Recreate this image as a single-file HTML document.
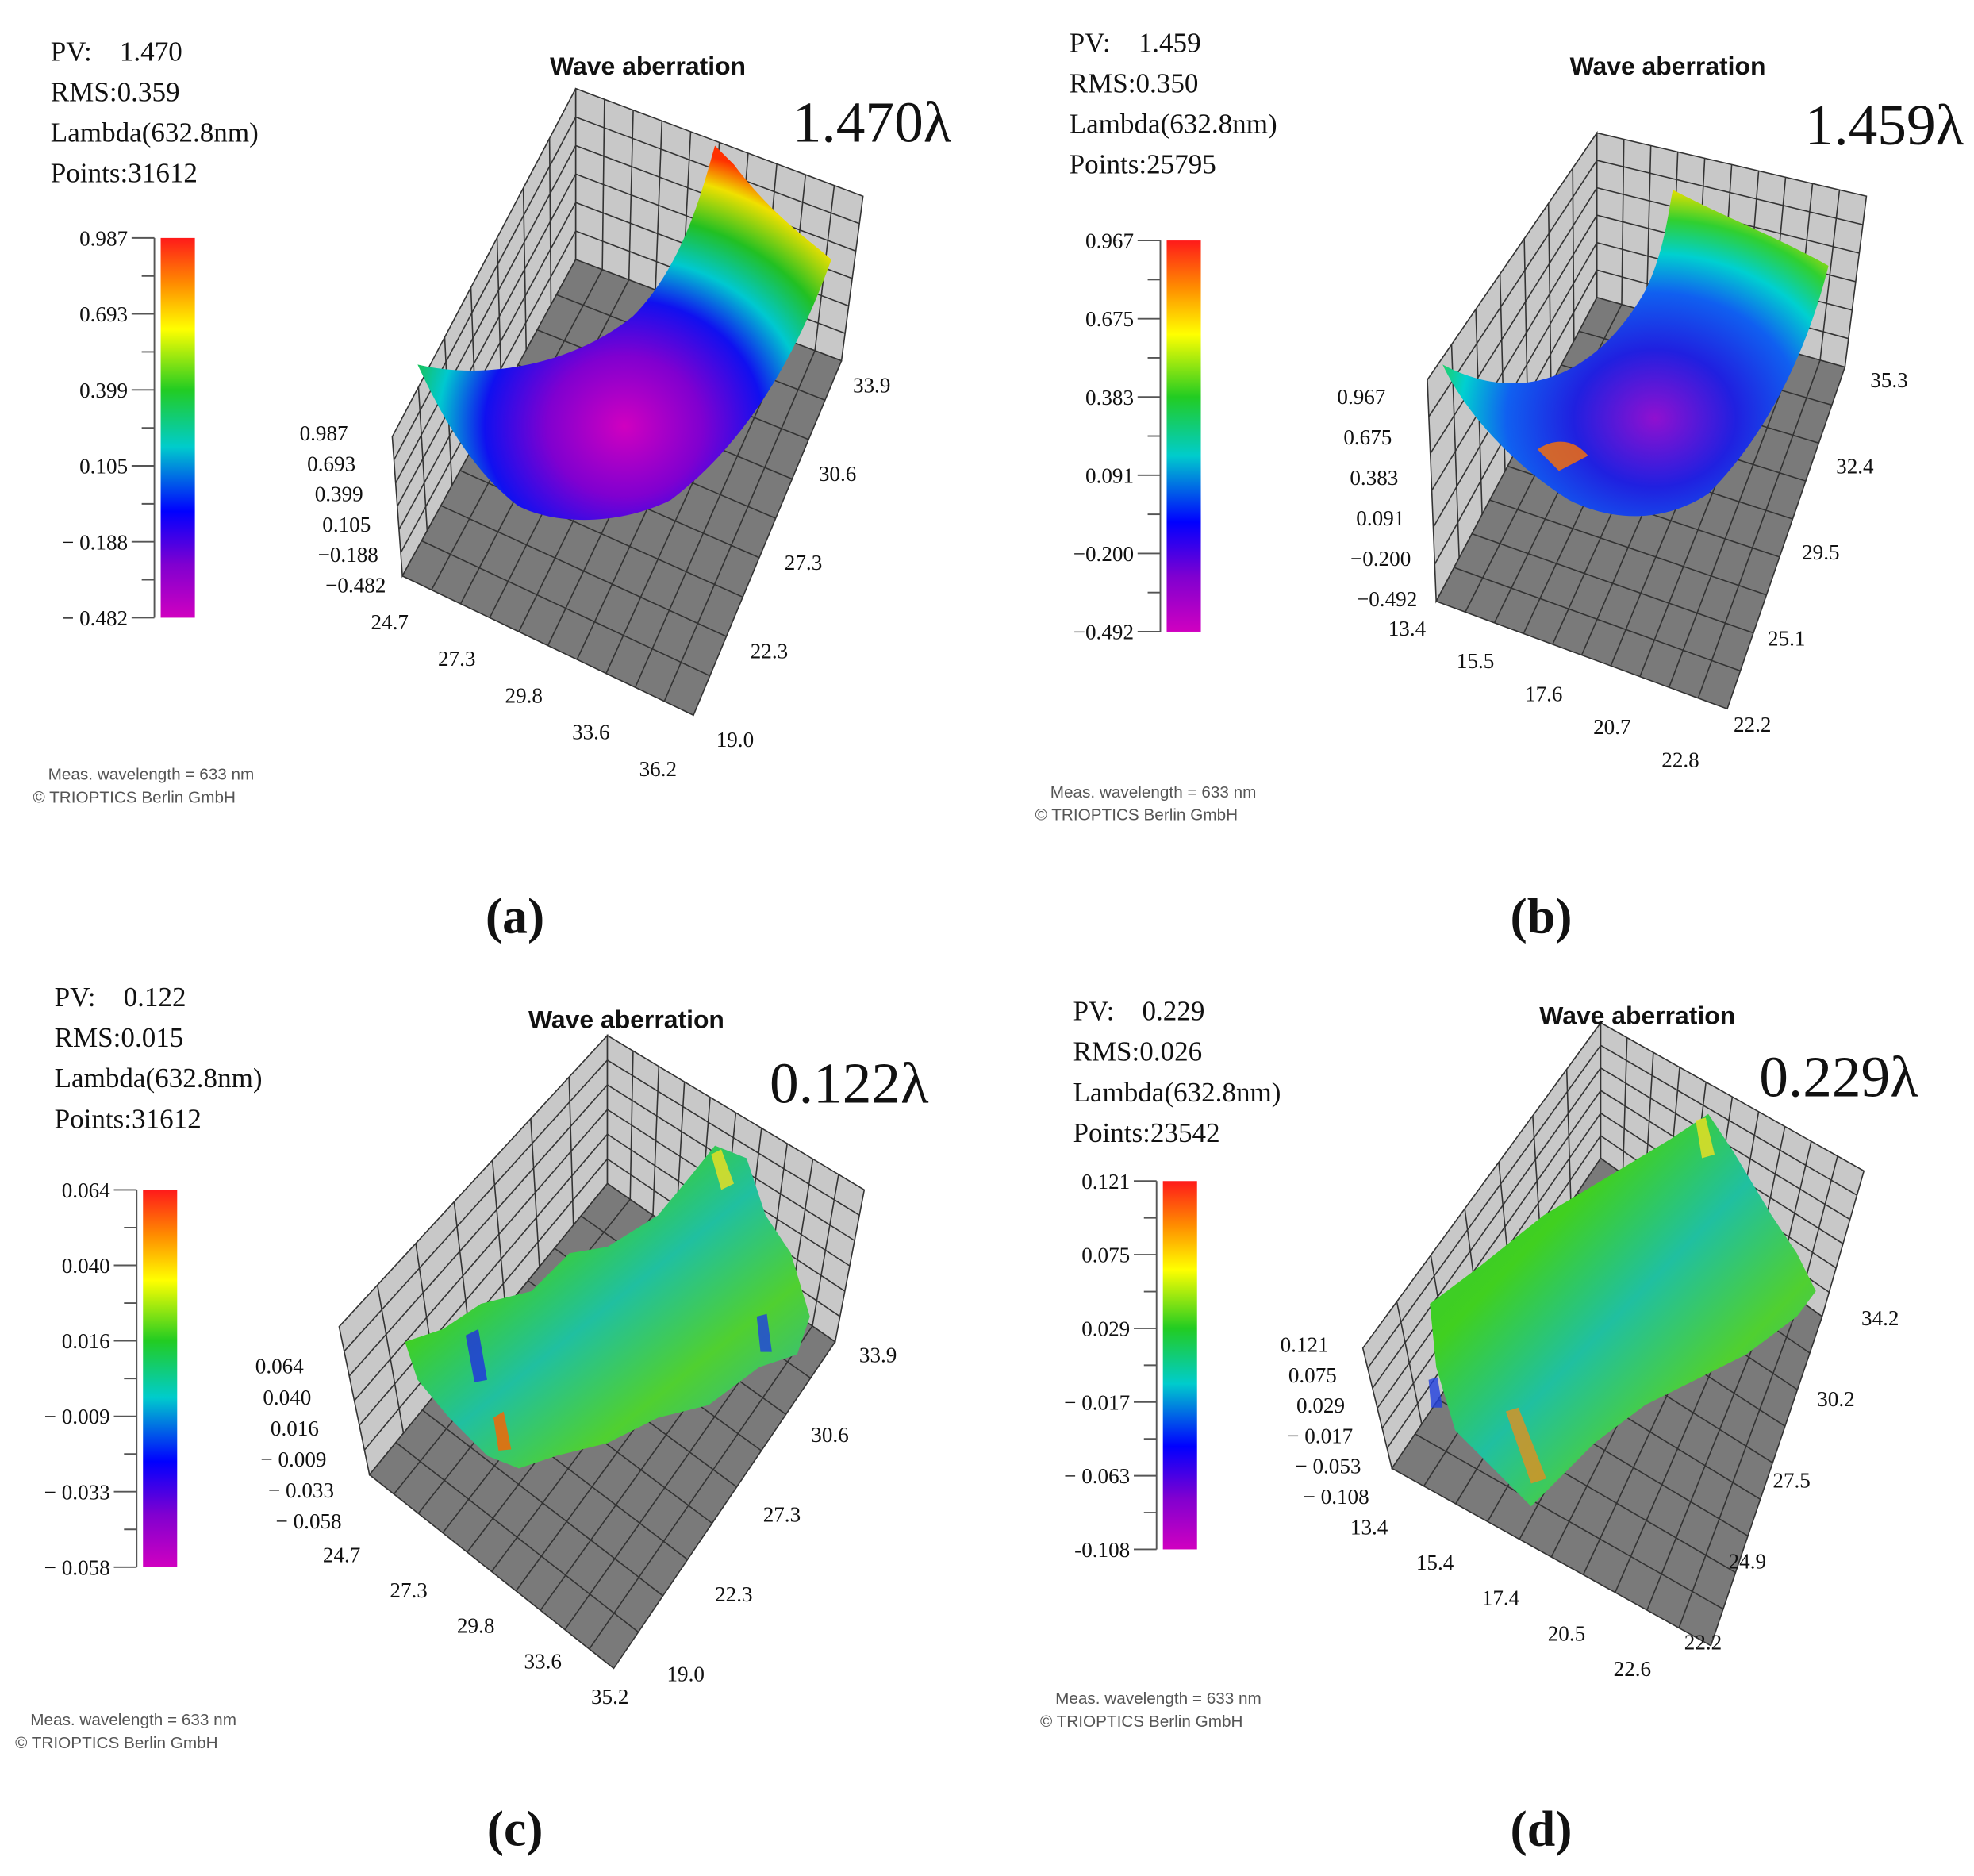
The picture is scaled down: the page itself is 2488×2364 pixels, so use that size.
<!DOCTYPE html>
<html><head><meta charset="utf-8"><style>
html,body{margin:0;padding:0;background:#fff}
svg{display:block}
text{white-space:pre}
.st{font-family:"Liberation Serif",serif;font-size:22px;fill:#111}
.tk{font-family:"Liberation Serif",serif;font-size:17px;fill:#111}
.ti{font-family:"Liberation Sans",sans-serif;font-size:20px;font-weight:bold;fill:#111}
.big{font-family:"Liberation Serif",serif;font-size:46px;fill:#111}
.ft{font-family:"Liberation Sans",sans-serif;font-size:13px;fill:#555}
.lb{font-family:"Liberation Serif",serif;font-size:40px;font-weight:bold;fill:#111}
</style></head><body>
<svg id="fig" width="2488" height="2364" viewBox="0 0 1560 1482" preserveAspectRatio="none" xmlns="http://www.w3.org/2000/svg" xml:space="preserve">
<defs>
<linearGradient id="cb" x1="0" y1="0" x2="0" y2="1">
<stop offset="0" stop-color="#ff1a1a"/><stop offset="0.12" stop-color="#ff8c00"/><stop offset="0.24" stop-color="#ffff00"/><stop offset="0.4" stop-color="#22cc22"/><stop offset="0.55" stop-color="#00cccc"/><stop offset="0.72" stop-color="#0000ff"/><stop offset="0.86" stop-color="#8000d0"/><stop offset="1" stop-color="#d000c0"/>
</linearGradient>
<radialGradient id="ga" cx="0.5" cy="0.75" r="0.75">
<stop offset="0" stop-color="#d000c0"/><stop offset="0.25" stop-color="#8000d0"/><stop offset="0.45" stop-color="#1010f0"/><stop offset="0.6" stop-color="#00c8d0"/><stop offset="0.75" stop-color="#22c022"/><stop offset="0.9" stop-color="#f0e000"/><stop offset="1" stop-color="#ff3000"/>
</radialGradient>
<radialGradient id="gb" cx="0.55" cy="0.7" r="0.7">
<stop offset="0" stop-color="#9010d0"/><stop offset="0.3" stop-color="#2020e0"/><stop offset="0.55" stop-color="#1060f0"/><stop offset="0.72" stop-color="#00d0d0"/><stop offset="0.87" stop-color="#30d030"/><stop offset="1" stop-color="#e0e000"/>
</radialGradient>
<linearGradient id="gn" x1="0" y1="0" x2="1" y2="1">
<stop offset="0" stop-color="#30c040"/><stop offset="0.3" stop-color="#40d020"/><stop offset="0.5" stop-color="#20c0a0"/><stop offset="0.7" stop-color="#50d030"/><stop offset="1" stop-color="#20b0c0"/>
</linearGradient>
</defs>
<g id="layer"></g>
</svg>
<script>
const NS="http://www.w3.org/2000/svg";
const L=document.getElementById('layer');
function mk(t,a,p){const e=document.createElementNS(NS,t);for(const k in a)e.setAttribute(k,a[k]);(p||L).appendChild(e);return e;}
function txt(x,y,s,c,anchor){const e=mk('text',{x:x,y:y,class:c});if(anchor)e.setAttribute('text-anchor',anchor);e.textContent=s;return e;}
function lerp(a,b,t){return [a[0]+(b[0]-a[0])*t,a[1]+(b[1]-a[1])*t];}
function quad(p,fill,n,m,name){
  const g=mk('g',{});
  
  
  mk('polygon',{points:p.map(q=>q.join(',')).join(' '),fill:fill,stroke:'#333','stroke-width':1},g);
  for(let i=1;i<n;i++){const a=lerp(p[0],p[1],i/n),b=lerp(p[3],p[2],i/n);mk('line',{x1:a[0],y1:a[1],x2:b[0],y2:b[1],stroke:'#333','stroke-width':1},g);}
  for(let j=1;j<m;j++){const a=lerp(p[0],p[3],j/m),b=lerp(p[1],p[2],j/m);mk('line',{x1:a[0],y1:a[1],x2:b[0],y2:b[1],stroke:'#333','stroke-width':1},g);}
}
const statsA=["PV:    1.470","RMS:0.359","Lambda(632.8nm)","Points:31612"];
const statsB=["PV:    1.459","RMS:0.350","Lambda(632.8nm)","Points:25795"];
const statsC=["PV:    0.122","RMS:0.015","Lambda(632.8nm)","Points:31612"];
const statsD=["PV:    0.229","RMS:0.026","Lambda(632.8nm)","Points:23542"];
const cbA=["0.987","0.693","0.399","0.105","\u2212 0.188","\u2212 0.482"];
const cbB=["0.967","0.675","0.383","0.091","\u22120.200","\u22120.492"];
const cbC=["0.064","0.040","0.016","\u2212 0.009","\u2212 0.033","\u2212 0.058"];
const cbD=["0.121","0.075","0.029","\u2212 0.017","\u2212 0.063","-0.108"];
const xA=["24.7","27.3","29.8","33.6","36.2"], yA=["19.0","22.3","27.3","30.6","33.9"];
const xB=["13.4","15.5","17.6","20.7","22.8"], yB=["22.2","25.1","29.5","32.4","35.3"];
const xC=["24.7","27.3","29.8","33.6","35.2"], yC=["19.0","22.3","27.3","30.6","33.9"];
const xD=["13.4","15.4","17.4","20.5","22.6"], yD=["22.2","24.9","27.5","30.2","34.2"];
const zA=["0.987","0.693","0.399","0.105","\u22120.188","\u22120.482"];
const zB=["0.967","0.675","0.383","0.091","\u22120.200","\u22120.492"];
const zC=["0.064","0.040","0.016","\u2212 0.009","\u2212 0.033","\u2212 0.058"];
const zD=["0.121","0.075","0.029","\u2212 0.017","\u2212 0.053","\u2212 0.108"];

function panel(o){
  const g=mk('g',{});
  
  
  o.stats.forEach((s,i)=>txt(o.sx,o.sy+i*32,s,'st'));
  const [bx,by0,by1]=o.cb;
  mk('rect',{x:bx,y:by0,width:27,height:by1-by0,fill:'url(#cb)'});
  mk('line',{x1:bx-5,y1:by0,x2:bx-5,y2:by1,stroke:'#555','stroke-width':1.2});
  for(let i=0;i<=10;i++){const y=by0+(by1-by0)*i/10;mk('line',{x1:bx-5-(i%2?10:18),y1:y,x2:bx-5,y2:y,stroke:'#555','stroke-width':1.2});}
  o.cbl.forEach((s,i)=>txt(bx-26,by0+(by1-by0)*i/5+6,s,'tk','end'));
  const B=o.box;
  quad([B.lt,B.bt,B.bb,B.lb],'#c8c8c8',7,6,'left-wall');
  quad([B.bt,B.rt,B.rb,B.bb],'#c8c8c8',10,6,'right-wall');
  quad([B.bb,B.rb,B.f,B.lb],'#7a7a7a',10,9,'floor');
  const s=mk('path',{d:o.surf,fill:o.fill,stroke:'none'});
  
  
  if(o.spikes){o.spikes.forEach(p=>mk('path',{d:p[0],fill:p[1],opacity:0.8}));}
  txt(o.title[0],o.title[1],'Wave aberration','ti','middle');
  txt(o.big[0],o.big[1],o.bigt,'big','end');
  o.zl.forEach((s,i)=>txt(o.zpos[0]+i*o.zpos[2],o.zpos[1]+i*o.zpos[3],s,'tk','end'));
  o.xl.forEach((s,i)=>txt(o.xpos[0]+i*o.xpos[2],o.xpos[1]+i*o.xpos[3],s,'tk','middle'));
  o.yl.forEach((s,i)=>txt(o.ypos[0]+i*o.ypos[2],o.ypos[1]+i*o.ypos[3],s,'tk','start'));
  txt(o.foot[0]+12,o.foot[1],'Meas. wavelength = 633 nm','ft');
  txt(o.foot[0],o.foot[1]+18,'\u00a9 TRIOPTICS Berlin GmbH','ft');
  txt(o.lab[0],o.lab[1],o.labt,'lb','middle');
}
panel({name:'panel-a',stats:statsA,sx:40,sy:48,cb:[127,188,488],cbl:cbA,
 box:{lt:[310,345],bt:[455,70],rt:[682,155],lb:[318,455],bb:[455,205],rb:[665,285],f:[548,565]},
 surf:'M330,288 C380,300 450,290 500,250 C540,210 555,150 565,115 L580,130 C610,170 640,190 657,205 C630,280 590,350 530,395 C490,415 440,415 410,400 C370,370 345,320 330,288 Z',
 fill:'url(#ga)',title:[512,59],big:[752,112],bigt:'1.470\u03bb',
 zl:zA,zpos:[275,348,6,24],xl:xA,xpos:[308,497,53,29],yl:yA,ypos:[566,590,27,-70],foot:[26,616],lab:[407,737],labt:'(a)'});
panel({name:'panel-b',stats:statsB,sx:845,sy:41,cb:[922,190,499],cbl:cbB,
 box:{lt:[1128,300],bt:[1262,105],rt:[1475,155],lb:[1135,475],bb:[1262,235],rb:[1458,290],f:[1365,560]},
 surf:'M1140,288 C1200,320 1260,300 1300,230 C1315,200 1318,170 1322,150 C1360,170 1410,190 1445,210 C1430,270 1400,340 1350,390 C1320,410 1280,415 1240,395 C1200,370 1160,330 1140,288 Z',
 fill:'url(#gb)',spikes:[['M1215,355 C1230,345 1245,348 1255,360 L1232,372 Z','#ff7000']],
 title:[1318,59],big:[1552,114],bigt:'1.459\u03bb',
 zl:zB,zpos:[1095,319,5,32],xl:xB,xpos:[1112,502,54,26],yl:yB,ypos:[1370,578,27,-68],foot:[818,630],lab:[1218,737],labt:'(b)'});
panel({name:'panel-c',stats:statsC,sx:43,sy:795,cb:[113,940,1238],cbl:cbC,
 box:{lt:[268,1048],bt:[480,818],rt:[683,940],lb:[292,1165],bb:[480,935],rb:[660,1060],f:[485,1318]},
 surf:'M320,1060 L350,1050 L380,1030 L420,1020 L450,990 L480,985 L520,960 L545,930 L565,905 L590,915 L605,960 L625,990 L640,1040 L630,1070 L600,1080 L560,1110 L520,1120 L480,1140 L440,1150 L410,1160 L385,1150 L355,1120 L330,1090 Z',
 fill:'url(#gn)',spikes:[['M368,1055 L378,1050 L385,1090 L375,1092 Z','#2030e0'],['M390,1120 L398,1115 L404,1145 L394,1146 Z','#ff6000'],['M562,912 L570,908 L580,935 L570,940 Z','#f0e020'],['M598,1040 L606,1038 L610,1068 L601,1068 Z','#2040e0']],
 title:[495,812],big:[734,871],bigt:'0.122\u03bb',
 zl:zC,zpos:[240,1085,6,24.5],xl:xC,xpos:[270,1234,53,28],yl:yC,ypos:[527,1328,38,-63],foot:[12,1363],lab:[407,1458],labt:'(c)'});
panel({name:'panel-d',stats:statsD,sx:848,sy:806,cb:[919,933,1224],cbl:cbD,
 box:{lt:[1077,1065],bt:[1265,808],rt:[1473,925],lb:[1100,1160],bb:[1265,915],rb:[1440,1040],f:[1352,1300]},
 surf:'M1130,1030 L1170,1000 L1220,960 L1270,930 L1320,900 L1350,880 L1370,910 L1400,960 L1420,990 L1435,1020 L1420,1040 L1380,1070 L1340,1090 L1300,1110 L1260,1140 L1230,1170 L1210,1190 L1180,1160 L1150,1130 L1135,1080 Z',
 fill:'url(#gn)',spikes:[['M1190,1115 L1200,1112 L1222,1168 L1210,1172 Z','#e09020'],['M1340,885 L1348,883 L1355,912 L1345,915 Z','#f0e020'],['M1129,1090 L1136,1088 L1140,1112 L1131,1112 Z','#2040e0']],
 title:[1294,809],big:[1516,866],bigt:'0.229\u03bb',
 zl:zD,zpos:[1050,1068,6.4,24],xl:xD,xpos:[1082,1212,52,28],yl:yD,ypos:[1331,1303,35,-64],foot:[822,1346],lab:[1218,1458],labt:'(d)'});
</script>
</body></html>
